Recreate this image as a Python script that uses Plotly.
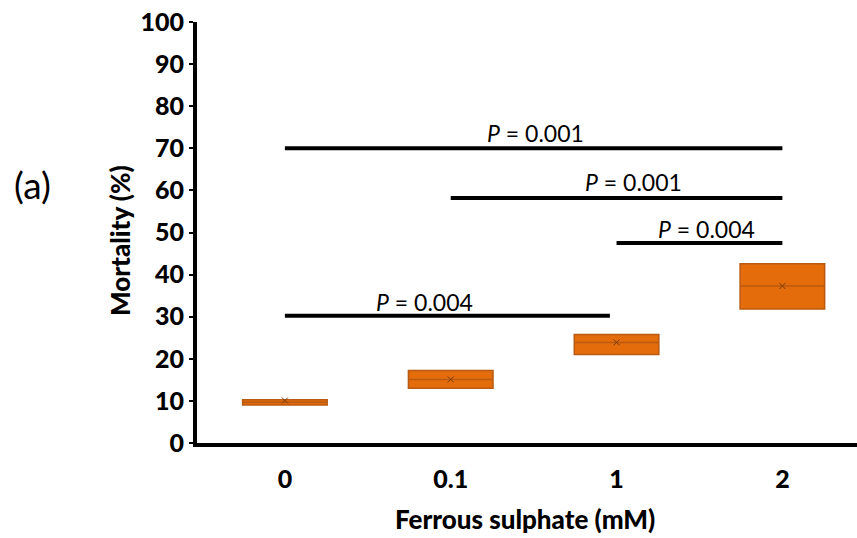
import plotly.graph_objects as go

# ---- data ----
categories = ["0", "0.1", "1", "2"]
q1 = [9.0, 13.0, 21.0, 31.8]
median = [9.7, 15.1, 23.9, 37.3]
q3 = [10.3, 17.2, 25.8, 42.6]
mean = [10.1, 15.1, 23.9, 37.3]

comp_start = [0, 1, 2, 0]
comp_end = [3, 3, 3, 1.96]
comp_height = [70.0, 58.2, 47.5, 30.2]
comp_label = ["0.001", "0.001", "0.004", "0.004"]
label_x = [1.51, 2.10, 2.54, 0.84]
label_y = [73.6, 62.0, 50.8, 33.5]

y_ticks = list(range(0, 101, 10))

FONT = "Lato"
orange = "#E46C0A"
edge = "#B95A12"

xpos = list(range(len(categories)))

fig = go.Figure()
fig.add_trace(go.Box(
    x=xpos, q1=q1, median=median, q3=q3,
    lowerfence=q1, upperfence=q3,
    fillcolor=orange, line=dict(color=edge, width=1.5),
    width=0.51, boxpoints=False, showlegend=False, hoverinfo="skip",
))
fig.add_trace(go.Scatter(
    x=xpos, y=mean, mode="markers",
    marker=dict(symbol="x-thin", size=6, line=dict(color="#7a3a08", width=1)),
    showlegend=False, hoverinfo="skip",
))
for s, e, h in zip(comp_start, comp_end, comp_height):
    fig.add_trace(go.Scatter(
        x=[s, e], y=[h, h], mode="lines",
        line=dict(color="black", width=4),
        showlegend=False, hoverinfo="skip",
    ))

annotations = []
for lx, ly, lab in zip(label_x, label_y, comp_label):
    annotations.append(dict(
        x=lx, y=ly, xref="x", yref="y", text=f"<i>P</i> = {lab}",
        showarrow=False, font=dict(family=FONT, size=23, color="black"),
        xanchor="center", yanchor="middle",
    ))
annotations.append(dict(
    x=-0.25, y=0.615, xref="paper", yref="paper", text="(a)", showarrow=False,
    font=dict(family=FONT, size=37, color="black"), xanchor="center", yanchor="middle",
))
annotations.append(dict(
    x=-0.1167, y=0.482, xref="paper", yref="paper", text="Mortality (%)",
    textangle=-90, showarrow=False,
    font=dict(family=FONT, size=26, color="black", weight=900), xanchor="center", yanchor="middle",
))
annotations.append(dict(
    x=0.497, y=-0.1805, xref="paper", yref="paper", text="Ferrous sulphate (mM)",
    showarrow=False,
    font=dict(family=FONT, size=26, color="black", weight=900), xanchor="center", yanchor="middle",
))

fig.update_layout(
    width=857, height=538,
    margin=dict(l=197, r=0, t=22, b=95),
    plot_bgcolor="white", paper_bgcolor="white",
    annotations=annotations,
    xaxis=dict(
        range=[-0.53, 3.45], tickvals=xpos, ticktext=categories,
        showgrid=False, zeroline=False, showline=True, linecolor="black", linewidth=4,
        ticks="", ticklabelstandoff=11,
        tickfont=dict(family=FONT, size=25, color="black", weight=900),
    ),
    yaxis=dict(
        range=[0, 100], tickvals=y_ticks,
        showgrid=False, zeroline=False, showline=True, linecolor="black", linewidth=4,
        ticks="outside", ticklen=4, tickwidth=2, tickcolor="black",
        tickfont=dict(family=FONT, size=25, color="black", weight=900),
    ),
)

fig.write_html("out.html")
